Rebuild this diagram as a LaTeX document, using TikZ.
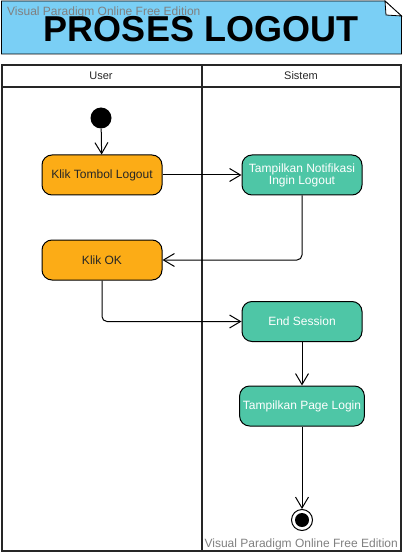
\documentclass[tikz,border=0pt]{standalone}
\usepackage{fontspec}
\setmainfont{Liberation Sans}
\usetikzlibrary{arrows.meta, positioning}

\definecolor{notefill}{RGB}{122,207,245}
\definecolor{userfill}{RGB}{252,172,22}
\definecolor{sysfill}{RGB}{78,198,166}
\definecolor{wmgray}{RGB}{128,128,128}

\begin{document}
\begin{tikzpicture}[x=1pt, y=-1pt,
  lane/.style={draw=black!85, line width=1.6pt},
  useract/.style={draw, line width=1pt, fill=userfill, rounded corners=10pt,
    minimum width=120pt, minimum height=40pt, font=\fontsize{12}{14}\selectfont, text=black!85},
  sysact/.style={draw, line width=1pt, fill=sysfill, rounded corners=10pt,
    minimum width=120pt, minimum height=40pt, align=center,
    font=\fontsize{12}{14}\selectfont, text=white},
  flow/.style={line width=1pt, -{Straight Barb[length=11pt, width=13pt]}},
  watermark/.style={text=wmgray, font=\fontsize{12}{14}\selectfont, inner sep=0pt}]

\useasboundingbox (0,0) rectangle (403,553);

% title note
\draw[fill=notefill, line width=0.8pt] (1.5,1) -- (385,1) -- (401.5,16) -- (401.5,54) -- (1.5,54) -- cycle;
\draw[fill=white, line width=0.8pt] (385,1) -- (386,15) -- (401.5,16) -- cycle;
\node[watermark, anchor=west] (wm-top) at (7,12) {Visual Paradigm Online Free Edition};
\node[font=\bfseries\fontsize{36}{40}\selectfont] (title) at (201,29) {PROSES LOGOUT};

% swimlanes
\draw[lane] (2,65) rectangle (401,551);
\draw[lane] (2,87) -- (401,87);
\draw[lane] (202,65) -- (202,551);
\node[font=\fontsize{11}{13}\selectfont, text=black!85] (lane-user) at (101,76) {User};
\node[font=\fontsize{11}{13}\selectfont, text=black!85] (lane-sistem) at (301,76) {Sistem};

% activities
\node[circle, fill=black, minimum size=21pt, inner sep=0pt] (start) at (101,118) {};
\node[useract] (klik-tombol) at (102,175) {Klik Tombol Logout};
\node[sysact] (notifikasi) at (302,175) {Tampilkan Notifikasi\\[-2pt]Ingin Logout};
\node[useract] (klik-ok) at (102,260) {Klik OK};
\node[sysact] (end-session) at (302,321.5) {End Session};
\node[sysact] (page-login) at (302,406) {Tampilkan Page Login};
\node[circle, draw, line width=1pt, fill=white, minimum size=21pt, inner sep=0pt] (stop) at (302,520) {};
\node[circle, fill=black, minimum size=14pt, inner sep=0pt] (stop-dot) at (stop.center) {};

\draw[flow] (start) -- (klik-tombol);
\draw[flow] (klik-tombol) -- (notifikasi);
\draw[flow, rounded corners=5pt] (notifikasi.south) |- (klik-ok.east);
\draw[flow, rounded corners=5pt] (klik-ok.south) |- (end-session.west);
\draw[flow] (end-session) -- (page-login);
\draw[flow] (page-login) -- (stop);

\node[watermark, anchor=east] (wm-bottom) at (398,544) {Visual Paradigm Online Free Edition};

\end{tikzpicture}
\end{document}
